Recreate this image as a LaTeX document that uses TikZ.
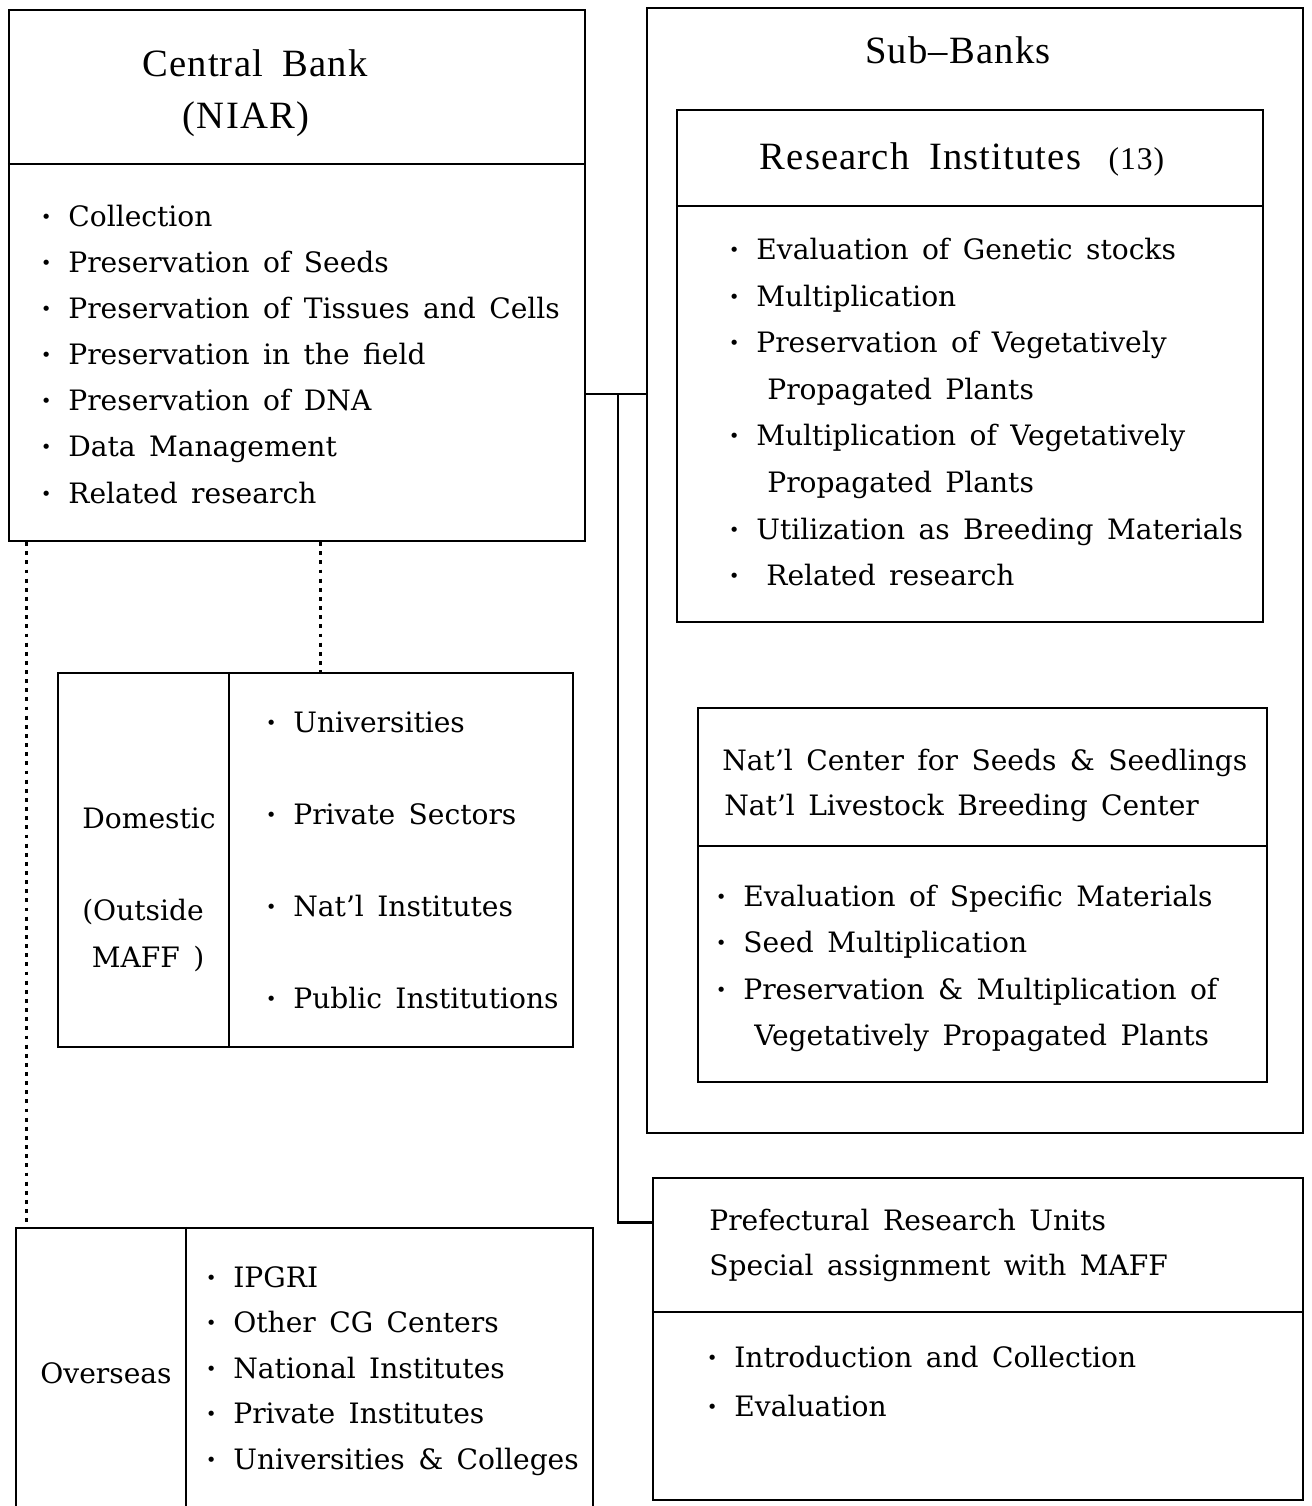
\documentclass[tikz,border=0pt]{standalone}
\usepackage{fontspec}
\setmainfont{DejaVu Serif}[WordSpace=1.5]
\newfontfamily\headfont{Liberation Serif}[LetterSpace=3,WordSpace=1.8]
\usetikzlibrary{positioning, calc, fit}
\newcommand{\bul}{\makebox[0.54cm][l]{\bfseries ·}}
\newcommand{\cont}{\hspace*{0.76cm}}

\begin{document}
\begin{tikzpicture}[x=0.02cm, y=-0.02cm,
    panel/.style={draw, line width=1.3pt, inner sep=0pt},
    rule/.style={line width=1.3pt},
    link/.style={line width=1.6pt},
    dotlink/.style={line width=1.8pt, dash pattern=on 2.2pt off 3pt},
    item/.style={anchor=base west, inner sep=0pt, font=\fontsize{16}{20}\selectfont},
    label/.style={anchor=base, inner sep=0pt, font=\fontsize{16}{20}\selectfont},
    head/.style={anchor=base, inner sep=0pt, font=\headfont\fontsize{22}{26}\selectfont}]
  \useasboundingbox (0,0) rectangle (1311,1506);

  % --- Central Bank ---
  \node[panel, fit={(9,10) (585,541)}] (cb) {};
  \draw[rule] ($(cb.north west)+(0,155)$) -- ($(cb.north east)+(0,155)$);
  \node[head] (cbname) at (255,77) {Central Bank};
  \node[head] (cbniar) at (246,129) {(NIAR)};
  \foreach \txt [count=\i] in {Collection, Preservation of Seeds,
      Preservation of Tissues and Cells, Preservation in the field,
      Preservation of DNA, Data Management, Related research}
    \node[item] (cbi\i) at (41,{227+46*(\i-1)}) {\bul\txt};

  % --- Sub-Banks ---
  \node[panel, fit={(647,8) (1303,1133)}] (sb) {};
  \node[head] (sbname) at (958,64) {Sub\textendash Banks};

  % research institutes
  \node[panel, fit={(677,110) (1263,622)}] (ri) {};
  \draw[rule] ($(ri.north west)+(0,97)$) -- ($(ri.north east)+(0,97)$);
  \node[head] (riname) at (962,170) {Research Institutes\hspace{0.55cm}{\fontsize{18}{20}\selectfont(13)}};
  \foreach \txt [count=\i] in {{\bul Evaluation of Genetic stocks}, {\bul Multiplication},
      {\bul Preservation of Vegetatively}, {\cont Propagated Plants},
      {\bul Multiplication of Vegetatively}, {\cont Propagated Plants},
      {\bul Utilization as Breeding Materials}, {\bul\hspace{0.2cm}Related research}}
    \node[item] (rii\i) at (729,{260+46.5*(\i-1)}) {\txt};

  % national centers
  \node[panel, fit={(698,708) (1267,1082)}] (nc) {};
  \draw[rule] ($(nc.north west)+(0,139)$) -- ($(nc.north east)+(0,139)$);
  \node[item] (ncname) at (722,770) {Nat'l Center for Seeds \& Seedlings};
  \node[item] (lbname) at (724,815) {Nat'l Livestock Breeding Center};
  \foreach \txt [count=\i] in {{\bul Evaluation of Specific Materials}, {\bul Seed Multiplication},
      {\bul Preservation \& Multiplication of}, {\cont Vegetatively Propagated Plants}}
    \node[item] (nci\i) at (716,{906+46.5*(\i-1)}) {\txt};

  % --- Domestic ---
  \node[panel, fit={(58,673) (573,1047)}] (dom) {};
  \draw[rule] ($(dom.north west)+(172,0)$) -- ($(dom.south west)+(172,0)$);
  \node[label] (domname) at (149,828) {Domestic};
  \node[label] (domout) at (143,920) {(Outside};
  \node[label] (dommaff) at (148,967) {MAFF )};
  \foreach \txt [count=\i] in {Universities, Private Sectors, Nat'l Institutes, Public Institutions}
    \node[item] (domi\i) at (266,{732+92*(\i-1)}) {\bul\txt};

  % --- Overseas ---
  \node[panel, fit={(16,1228) (593,1540)}] (ov) {};
  \draw[rule] ($(ov.north west)+(171,0)$) -- ($(ov.south west)+(171,0)$);
  \node[label] (ovname) at (106,1383) {Overseas};
  \foreach \txt [count=\i] in {IPGRI, Other CG Centers, National Institutes,
      Private Institutes, Universities \& Colleges}
    \node[item] (ovi\i) at (206,{1287+45.5*(\i-1)}) {\bul\txt};

  % --- Prefectural ---
  \node[panel, fit={(653,1178) (1303,1500)}] (pr) {};
  \draw[rule] ($(pr.north west)+(0,135)$) -- ($(pr.north east)+(0,135)$);
  \node[item] (prname) at (709,1230) {Prefectural Research Units};
  \node[item] (prspec) at (709,1275) {Special assignment with MAFF};
  \foreach \txt [count=\i] in {Introduction and Collection, Evaluation}
    \node[item] (pri\i) at (707,{1367+49*(\i-1)}) {\bul\txt};

  % connectors
  \coordinate (jn) at (618,394);
  \coordinate (prin) at ($(pr.north west)+(0,46)$);
  \draw[link] (cb.east |- jn) -- (sb.west |- jn);
  \draw[link] (jn) |- (prin);

  \coordinate (d1) at ($(cb.south west)+(19,0)$);
  \coordinate (d2) at ($(cb.south west)+(313,0)$);
  \draw[dotlink] (d1) -- (d1 |- ov.north);
  \draw[dotlink] (d2) -- (d2 |- dom.north);
\end{tikzpicture}
\end{document}
